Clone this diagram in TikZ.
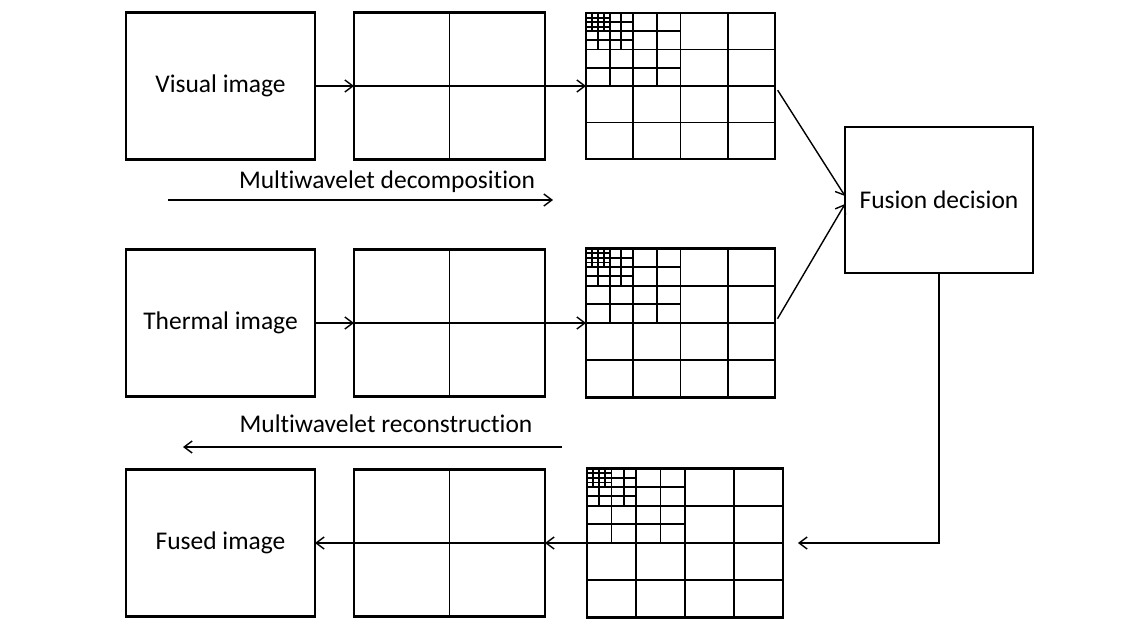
\documentclass[tikz,border=0pt]{standalone}
\usepackage{fontspec}
\setmainfont[Ligatures=NoCommon]{Carlito}
\usetikzlibrary{arrows.meta}

% split a box into four quarters
\newcommand{\quarters}[1]{%
    \draw[gridline] (#1.north) -- (#1.south);
    \draw[gridline] (#1.west) -- (#1.east);}

% multilevel subband layout inside a box: name, width, height
\newcommand{\subbands}[3]{%
    \begin{scope}[shift={(#1.north west)}, x=#2, y=-#3, gridline]
        \foreach \t in {0.25,0.5,0.75} {
            \draw (\t,0) -- (\t,1);
            \draw (0,\t) -- (1,\t);
        }
        \foreach \t in {0.125,0.375} {
            \draw (\t,0) -- (\t,0.5);
            \draw (0,\t) -- (0.5,\t);
        }
        \foreach \t in {0.0625,0.1875} {
            \draw (\t,0) -- (\t,0.25);
            \draw (0,\t) -- (0.25,\t);
        }
        \foreach \t in {0.03125,0.09375} {
            \draw (\t,0) -- (\t,0.125);
            \draw (0,\t) -- (0.125,\t);
        }
    \end{scope}}

\begin{document}
\begin{tikzpicture}[
        x=0.02cm, y=-0.02cm,
        font=\fontsize{14.5}{17}\selectfont,
        >={Straight Barb[length=1.6mm, width=2.4mm]},
        imgbox/.style={
            rectangle,
            draw,
            line width=1.6pt,
            outer sep=0pt,
            inner sep=0pt,
            minimum width=3.78cm,
            minimum height=2.94cm
        },
        gridline/.style={line width=1.1pt},
        flow/.style={->, line width=0.8pt}
    ]

    \useasboundingbox (0,0) rectangle (1143,619);

    % ---------- Row 1: visual image ----------
    \node[imgbox] (vis)  at (220.5, 86) {Visual image};
    \node[imgbox, minimum width=3.82cm] (vis2) at (449.5, 86) {};
    \node[imgbox, minimum height=2.92cm] (vis3) at (680.5, 86) {};

    % ---------- Row 2: thermal image ----------
    \node[imgbox] (therm)  at (220.5, 323) {Thermal image};
    \node[imgbox, minimum width=3.82cm] (therm2) at (449.5, 323) {};
    \node[imgbox, minimum height=2.98cm] (therm3) at (680.5, 323) {};

    % ---------- Row 3: fused image ----------
    \node[imgbox] (fused)  at (220.5, 543) {Fused image};
    \node[imgbox, minimum width=3.82cm] (fused2) at (449.5, 543) {};
    \node[imgbox, minimum width=3.92cm, minimum height=2.98cm] (fused3) at (685, 543) {};

    % ---------- Fusion ----------
    \node[imgbox, minimum width=3.76cm, minimum height=2.92cm] (fuse) at (939, 200) {Fusion decision};

    % decomposition grids
    \quarters{vis2}
    \quarters{therm2}
    \quarters{fused2}
    \subbands{vis3}{3.78cm}{2.92cm}
    \subbands{therm3}{3.78cm}{2.98cm}
    \subbands{fused3}{3.92cm}{2.98cm}

    % direction labels
    \node (declabel) at (387, 182) {Multiwavelet decomposition};
    \coordinate (decA) at (168, 200);
    \coordinate (decB) at (553, 200);
    \draw[flow] (decA) -- (decB);

    \node (reclabel) at (386, 424) {Multiwavelet reconstruction};
    \coordinate (recA) at (562, 447);
    \coordinate (recB) at (183, 447);
    \draw[flow] (recA) -- (recB);

    % connectors
    \draw[flow] (vis) -- (vis2);
    \draw[flow] (vis2) -- (vis3);
    \draw[flow] (therm) -- (therm2);
    \draw[flow] (therm2) -- (therm3);

    \draw[flow, shorten <=0.1cm] (vis3.east) -- ([yshift=0.08cm]fuse.west);
    \draw[flow, shorten <=0.1cm] (therm3.east) -- ([yshift=-0.08cm]fuse.west);
    \draw[flow, shorten >=0.3cm] (fuse.south) |- (fused3.east);

    \draw[flow] (fused3) -- (fused2);
    \draw[flow] (fused2) -- (fused);

\end{tikzpicture}
\end{document}
